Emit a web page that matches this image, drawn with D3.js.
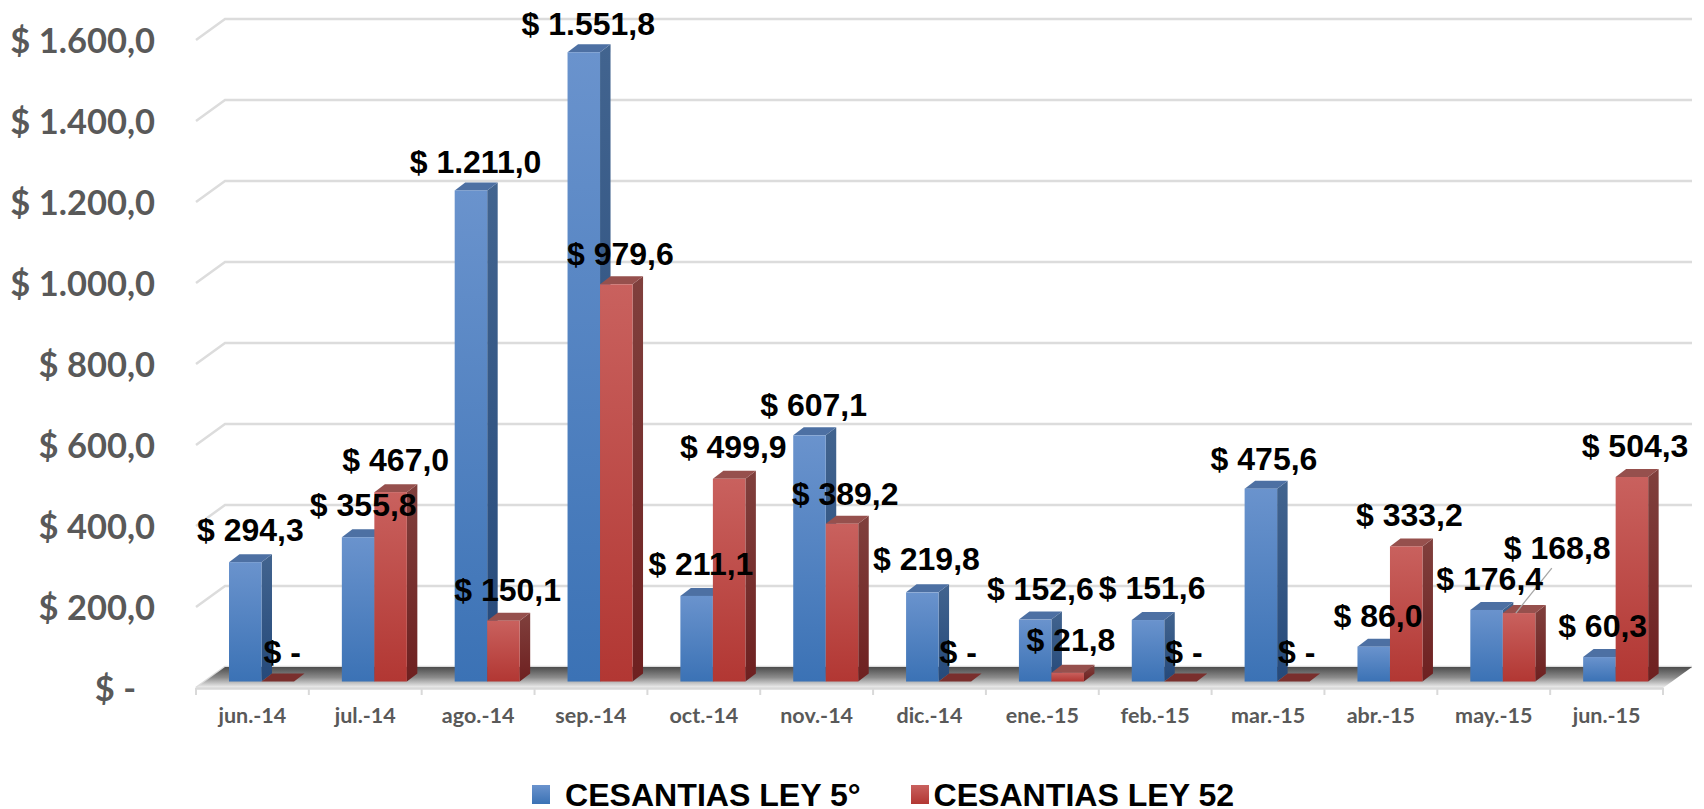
<!DOCTYPE html>
<html><head><meta charset="utf-8">
<script src="https://d3js.org/d3.v7.min.js"></script>
<style>html,body{margin:0;background:#fff}svg{display:block}</style>
</head><body><svg id="c" width="1704" height="809"></svg>
<script>
const categories = ["jun.-14","jul.-14","ago.-14","sep.-14","oct.-14","nov.-14","dic.-14","ene.-15","feb.-15","mar.-15","abr.-15","may.-15","jun.-15"];
const seriesNames = ["CESANTIAS LEY 5°","CESANTIAS LEY 52"];
const ley5 = [294.3,355.8,1211.0,1551.8,211.1,607.1,219.8,152.6,151.6,475.6,86.0,176.4,60.3];
const ley52 = [0,467.0,150.1,979.6,499.9,389.2,0,21.8,0,0,333.2,168.8,504.3];
const yTicks = [0,200,400,600,800,1000,1200,1400,1600];
const yTickLabels = ["$ -","$ 200,0","$ 400,0","$ 600,0","$ 800,0","$ 1.000,0","$ 1.200,0","$ 1.400,0","$ 1.600,0"];
const ley5Text = ["$ 294,3","$ 355,8","$ 1.211,0","$ 1.551,8","$ 211,1","$ 607,1","$ 219,8","$ 152,6","$ 151,6","$ 475,6","$ 86,0","$ 176,4","$ 60,3"];
const ley52Text = ["$ -","$ 467,0","$ 150,1","$ 979,6","$ 499,9","$ 389,2","$ -","$ 21,8","$ -","$ -","$ 333,2","$ 168,8","$ 504,3"];
// label placement relative to the bar's front-top-left corner
const ley5Nudge = [[-32,-21],[-32,-21],[-45,-17],[-46,-17],[-32,-21],[-33,-19],[-33,-22],[-32,-20],[-33,-21],[-34,-19],[-24,-20],[-34,-20],[-25,-20]];
const ley52Nudge = [[2,-19],[-32,-21],[-33,-20],[-33,-19],[-33,-21],[-34,-19],[1,-19],[-25,-22],[1,-19],[1,-19],[-34,-20],[1,-54],[-34,-20]];

const svg = d3.select("#c");
const depthX = 10.5, depthY = 8;
const front = {left:196,right:1663,y0:688,y1:40};
const back = {dx:29,dy:-21};
const yFront = d3.scaleLinear().domain([0,1600]).range([front.y0,front.y1]);
const yBar = d3.scaleLinear().domain([0,1600]).range([681.5,681.5-648.8]);
const x = d3.scaleBand().domain(categories).range([front.left,front.right]);
const xSub = d3.scaleBand().domain([0,1]).range([33,98]);

const defs = svg.append("defs");
function grad(id,stops){
  const g = defs.append("linearGradient").attr("id",id).attr("x1",0).attr("y1",0).attr("x2",0).attr("y2",1);
  stops.forEach((c,i)=>g.append("stop").attr("offset",i/(stops.length-1)).attr("stop-color",c));
}
grad("bf",["#6a93cd","#3b72b5"]); grad("bs",["#42648f","#25497a"]);
grad("rf",["#c9615e","#b23733"]); grad("rs",["#80403d","#6e2020"]);
grad("floor",["#4c4c4c","#8c8c8c","#f4f4f4"]);
const colors = [{f:"url(#bf)",s:"url(#bs)",t:"#4d70a3"},{f:"url(#rf)",s:"url(#rs)",t:"#96504d"}];

// gridlines: wall + left side wall
const grid = svg.append("g").attr("fill","none").attr("stroke","#dcdcdc").attr("stroke-width",2.5);
grid.selectAll("path").data(yTicks).join("path")
  .attr("d",d=>{
    const y=yFront(d);
    return d3.line()([[front.left,y],[front.left+back.dx,y+back.dy],[front.right+back.dx,y+back.dy]]);
  });

// floor
svg.append("path").attr("fill","url(#floor)")
  .attr("d",d3.line()([[front.left,front.y0],[front.left+back.dx,front.y0+back.dy],[front.right+back.dx,front.y0+back.dy],[front.right,front.y0]])+"Z");

// y axis labels
const yAxis = d3.axisLeft(yFront).tickValues(yTicks).tickSize(0).tickPadding(0)
  .tickFormat((d,i)=>yTickLabels[i]);
const gy = svg.append("g").attr("transform","translate(155,1)").call(yAxis);
gy.select(".domain").remove();
gy.selectAll("text").attr("font-family","Lato").attr("font-weight",700).attr("font-size",34.5).attr("fill","#595959")
  .attr("dx",d=>d===0?-19:0);

// x axis
const xAxis = d3.axisBottom(x).tickSize(0).tickPadding(20);
const gx = svg.append("g").attr("transform",`translate(0,${front.y0})`).call(xAxis);
gx.select(".domain").attr("stroke","#d9d9d9").attr("stroke-width",2.5);
gx.selectAll("text").attr("font-family","Lato").attr("font-weight",700).attr("font-size",21.5).attr("fill","#595959");
gx.selectAll(".edge").data([...categories.map(c=>x(c)),front.right]).join("line").attr("class","edge")
  .attr("x1",d=>d).attr("x2",d=>d).attr("y1",0).attr("y2",7).attr("stroke","#d9d9d9").attr("stroke-width",2);

// bars
const rows = categories.map((c,i)=>[
  {c,s:0,v:ley5[i],txt:ley5Text[i],n:ley5Nudge[i]},
  {c,s:1,v:ley52[i],txt:ley52Text[i],n:ley52Nudge[i]}
]);
const allBars = rows.flat();
const barG = svg.append("g");
const bar = barG.selectAll("g").data(allBars).join("g");
const L = d=>x(d.c)+xSub(d.s), R = d=>L(d)+xSub.bandwidth(), T = d=>yBar(d.v), B = ()=>yBar(0);
bar.append("path").attr("fill",d=>colors[d.s].s)
  .attr("d",d=>d3.line()([[R(d),T(d)],[R(d)+depthX,T(d)-depthY],[R(d)+depthX,B()-depthY],[R(d),B()]])+"Z");
bar.append("path").attr("fill",d=>d.v===0?"#7a2f2d":colors[d.s].t)
  .attr("d",d=>d3.line()([[L(d),T(d)],[L(d)+depthX,T(d)-depthY],[R(d)+depthX,T(d)-depthY],[R(d),T(d)]])+"Z");
bar.filter(d=>d.v>0).append("rect").attr("fill",d=>colors[d.s].f)
  .attr("x",L).attr("y",T).attr("width",xSub.bandwidth()).attr("height",d=>B()-T(d));

// leader line for the May 2015 LEY 52 label
const mayIdx = categories.indexOf("may.-15");
const mayBar = rows[mayIdx][1];
svg.append("line").attr("stroke","#a6a6a6").attr("stroke-width",1.3)
  .attr("x1",L(mayBar)+13).attr("y1",T(mayBar))
  .attr("x2",L(mayBar)+mayBar.n[0]+48).attr("y2",T(mayBar)+mayBar.n[1]+9);

// data labels
svg.append("g").selectAll("text").data(allBars).join("text")
  .attr("x",d=>L(d)+d.n[0]).attr("y",d=>T(d)+d.n[1])
  .attr("font-family","Liberation Sans").attr("font-weight",700).attr("font-size",32).attr("fill","#000")
  .text(d=>d.txt);

// legend
const legendX = [[532,565],[911,933.5]];
const lg = svg.append("g").selectAll("g").data(seriesNames).join("g");
lg.append("rect").attr("x",(d,i)=>legendX[i][0]).attr("y",785).attr("width",18).attr("height",19)
  .attr("fill",(d,i)=>colors[i].f);
lg.append("text").attr("x",(d,i)=>legendX[i][1]).attr("y",805.5)
  .attr("font-family","Liberation Sans").attr("font-weight",700).attr("font-size",32.1).attr("fill","#000")
  .text(d=>d);
</script></body></html>
